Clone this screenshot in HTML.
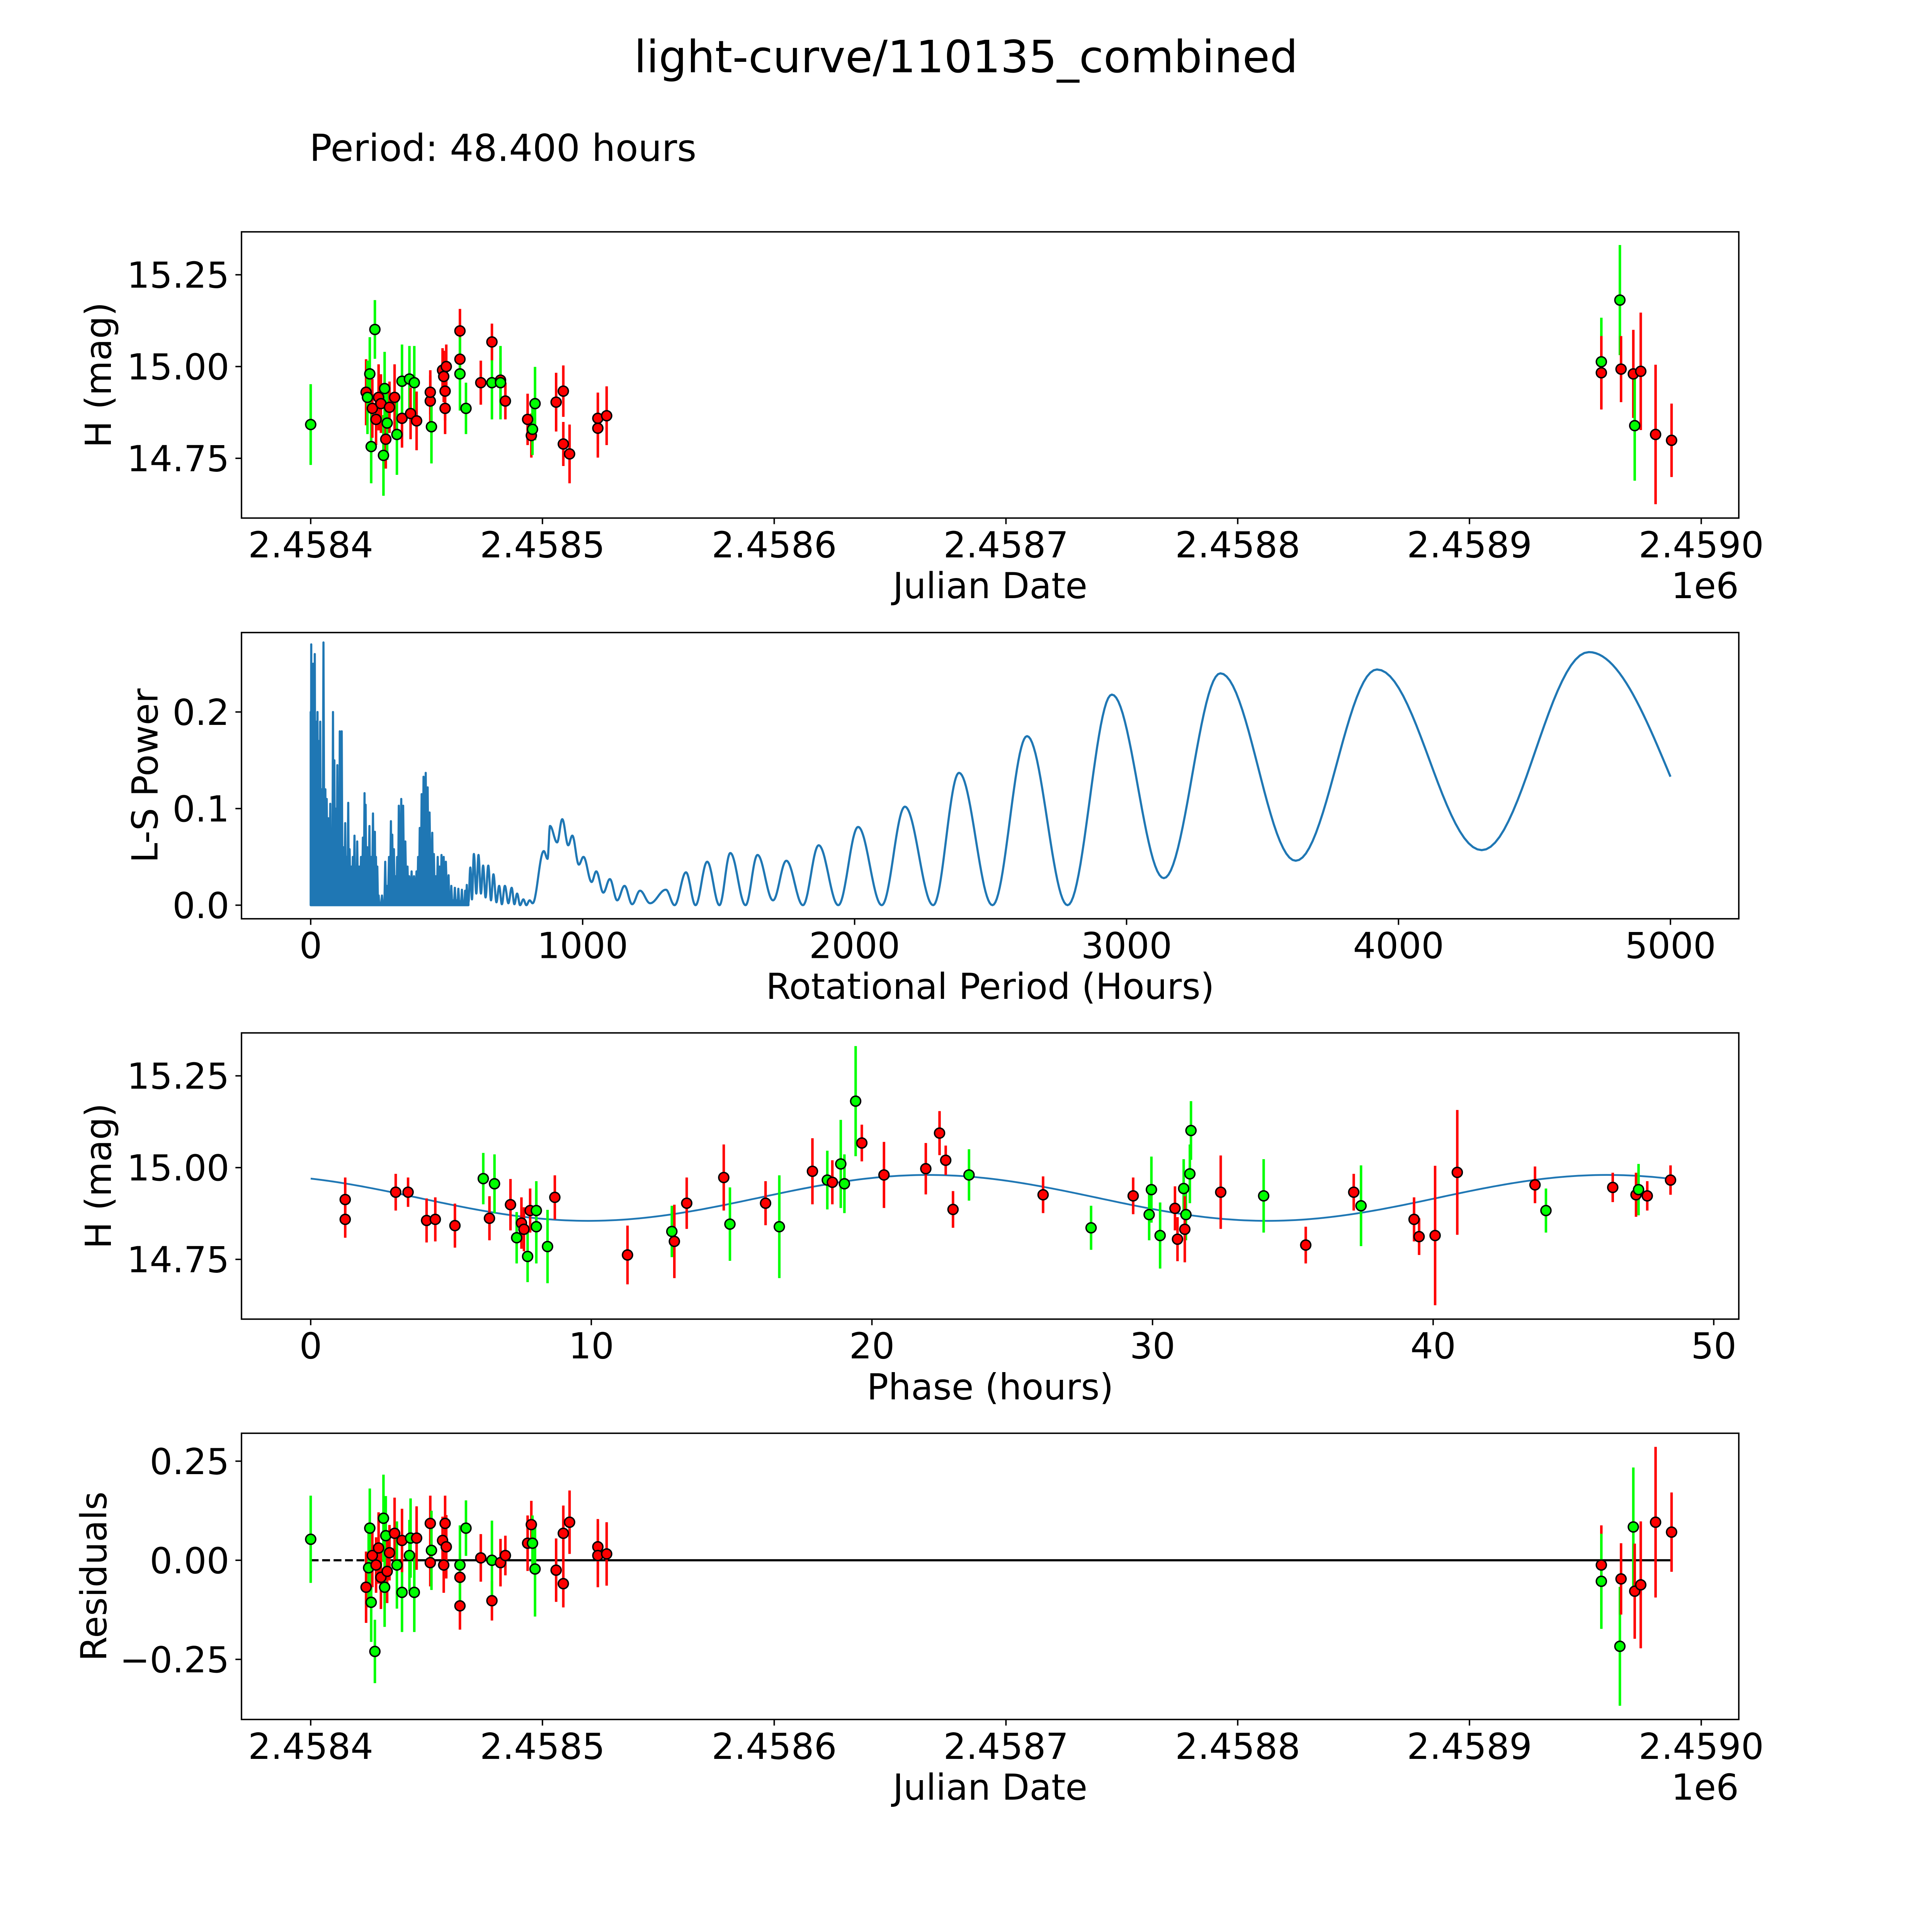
<!DOCTYPE html>
<html>
<head>
<meta charset="utf-8">
<style>
html,body{margin:0;padding:0;background:#fff;overflow:hidden;width:100%;height:100%;}
svg{display:block;position:fixed;left:0;top:0;width:100vw;height:100vh;font-family:"DejaVu Sans","Liberation Sans",sans-serif;}
</style>
</head>
<body>
<svg id="fig" xmlns="http://www.w3.org/2000/svg" viewBox="0 0 5400 5400" preserveAspectRatio="none">
<rect x="0" y="0" width="5400" height="5400" fill="#fff"/>
<text x="2700" y="202" font-size="124" text-anchor="middle">light-curve/110135_combined</text>
<text x="865" y="450" font-size="104">Period: 48.400 hours</text>
</svg>
<script>
// ---------- Panel 1: raw light curve (days since JD 2458400) ----------
const lcJd   = [0,23.9,24.5,25.5,26.1,27.7,26.6,28.2,29.3,30.3,31.4,32.4,31.9,33.0,34.0,36.2,37.2,39.4,39.4,42.6,43.1,44.7,45.7,51.6,51.6,52.1,56.9,57.4,58.0,58.0,58.5,64.4,64.4,64.4,67.0,73.4,78.2,78.2,81.9,81.9,84.0,93.6,95.2,95.7,96.8,105.9,109.0,109.0,111.7,123.9,123.9,127.7,556.9,556.9,564.9,565.4,570.7,571.3,573.9,580.3,587.2];
const lcMag  = [14.842,14.930,14.916,14.980,14.782,15.101,14.886,14.856,14.916,14.899,14.758,14.802,14.940,14.846,14.889,14.916,14.815,14.859,14.960,14.966,14.872,14.956,14.852,14.906,14.930,14.836,14.990,14.973,14.886,14.933,15.000,15.020,15.097,14.980,14.886,14.956,14.956,15.067,14.963,14.956,14.906,14.856,14.812,14.829,14.899,14.903,14.933,14.789,14.762,14.859,14.832,14.866,15.013,14.983,15.181,14.993,14.980,14.839,14.987,14.815,14.799];
const lcErr  = [0.11,0.09,0.1,0.1,0.1,0.08,0.08,0.07,0.09,0.08,0.11,0.08,0.1,0.1,0.07,0.09,0.11,0.08,0.1,0.09,0.07,0.1,0.08,0.07,0.06,0.1,0.06,0.07,0.07,0.08,0.06,0.06,0.06,0.1,0.07,0.06,0.1,0.05,0.06,0.1,0.05,0.07,0.06,0.07,0.1,0.08,0.07,0.06,0.08,0.07,0.08,0.08,0.12,0.1,0.15,0.09,0.12,0.15,0.16,0.19,0.1];
const lcBand = ['g','r','g','g','g','g','r','r','r','r','g','r','g','g','r','r','g','r','g','g','r','g','r','r','r','g','r','r','r','r','r','r','r','g','g','r','g','r','r','g','r','r','r','g','g','r','r','r','r','r','r','r','g','r','g','r','r','g','r','r','r'];

// ---------- Panel 2: Lomb-Scargle periodogram ----------
const lsDensePeriods = [0,2,5,9,12,15,20,25,30,35,40,47,54,59,65,72,77,82,87,92,98,103,107,114,120,127,132,138,143,150,155,161,166,171,178,185,192,198,202,208,216,222,229,236,240,245,250,255,262,268,274,280,288,295,300,306,312,318,324,333,340,348,356,362,371,380,389,395,401,408,415,423,430,437,447,453,460,467,474,481,489,497,507,512,517,524,530,537,543,550,556,562,568,574,580];
const lsDensePowers  = [0.2,0.27,0.2,0.25,0.18,0.26,0.19,0.2,0.17,0.19,0.12,0.272,0.12,0.11,0.09,0.105,0.07,0.2,0.15,0.1,0.145,0.08,0.18,0.18,0.06,0.085,0.05,0.106,0.058,0.04,0.05,0.072,0.04,0.066,0.04,0.05,0.07,0.116,0.104,0.06,0.082,0.05,0.095,0.076,0.05,0.04,0.01,0.0,0.01,0.0,0.045,0.02,0.05,0.087,0.073,0.058,0.03,0.05,0.103,0.11,0.103,0.066,0.04,0.03,0.035,0.03,0.035,0.05,0.08,0.115,0.133,0.137,0.122,0.096,0.075,0.053,0.03,0.05,0.04,0.052,0.05,0.045,0.031,0.01,0.02,0.005,0.018,0.005,0.017,0.004,0.016,0.003,0.015,0.021,0.003];
const lsExtPeriods = [580,587,593,600,609,617,626,634,643,653,663,672,683,693,703,714,727,739,749,759,770,782,793,805,816,857,871,880,906,925,947,962,986,1003,1033,1050,1076,1100,1127,1154,1182,1211,1248,1306,1338,1380,1415,1458,1503,1543,1599,1643,1700,1749,1810,1868,1940,2013,2100,2185,2289,2384,2507,2634,2783,2946,3137,3345,3622,3921,4306,4700,5000];
const lsExtPowers  = [0.003,0.039,0.006,0.053,0.012,0.052,0.012,0.041,0.008,0.041,0.005,0.032,0.003,0.02,0.001,0.02,0.002,0.018,0.001,0.012,0.0,0.006,0.0,0.005,0.002,0.056,0.048,0.082,0.065,0.089,0.062,0.072,0.042,0.05,0.024,0.035,0.013,0.027,0.005,0.02,0.001,0.015,0.002,0.016,0.0,0.034,0.0,0.045,0.0,0.054,0.0,0.052,0.005,0.046,0.0,0.062,0.0,0.081,0.0,0.102,0.0,0.137,0.0,0.175,0.0,0.218,0.028,0.24,0.046,0.244,0.057,0.262,0.133];

// ---------- Panel 3: phased light curve ----------
const phHours = [1.23,1.23,3.03,3.47,4.13,4.44,5.14,6.15,6.37,6.55,7.12,7.34,7.51,7.60,7.73,7.82,8.04,8.04,8.44,8.70,11.29,12.87,12.96,13.40,14.72,14.94,16.21,16.70,17.88,18.41,18.59,18.89,19.02,19.42,19.64,20.43,21.92,22.41,22.63,22.89,23.46,26.10,27.81,29.31,29.88,29.96,30.27,30.80,30.89,31.11,31.19,31.33,31.37,31.15,32.43,33.96,35.46,37.17,37.43,39.32,39.50,40.07,40.86,43.63,44.02,46.40,47.23,47.32,47.63,48.46];
const phMag   = [14.913,14.859,14.933,14.933,14.856,14.859,14.842,14.970,14.862,14.956,14.899,14.809,14.849,14.832,14.758,14.883,14.883,14.839,14.785,14.919,14.762,14.826,14.799,14.903,14.973,14.846,14.903,14.839,14.990,14.966,14.960,15.010,14.956,15.181,15.067,14.980,14.997,15.094,15.020,14.886,14.980,14.926,14.836,14.923,14.872,14.940,14.815,14.889,14.805,14.943,14.872,14.983,15.101,14.832,14.933,14.923,14.789,14.933,14.896,14.859,14.812,14.815,14.987,14.953,14.883,14.946,14.926,14.940,14.923,14.966];
const phErr   = [0.06,0.05,0.05,0.04,0.06,0.06,0.06,0.07,0.06,0.08,0.07,0.07,0.07,0.06,0.07,0.06,0.08,0.1,0.1,0.06,0.08,0.07,0.1,0.07,0.09,0.1,0.06,0.14,0.09,0.08,0.06,0.12,0.08,0.15,0.05,0.09,0.07,0.06,0.04,0.05,0.07,0.05,0.06,0.05,0.07,0.09,0.09,0.06,0.06,0.08,0.07,0.08,0.08,0.09,0.1,0.1,0.05,0.05,0.11,0.06,0.05,0.19,0.17,0.05,0.06,0.04,0.06,0.07,0.04,0.04];
const phBand  = ['r','r','r','r','r','r','r','g','r','g','r','g','r','r','g','r','g','g','g','r','r','g','r','r','r','g','r','g','r','g','r','g','g','g','r','r','r','r','r','r','g','r','g','r','g','g','g','r','r','g','g','g','g','r','r','g','r','r','g','r','r','r','r','r','g','r','r','g','r','r'];
// sinusoidal model: [mean mag, amplitude, peak phase (h), harmonic period (h), phase end (h)]
const modelParams = [14.9175, 0.0625, 22.0, 24.2, 48.4];

// ---------- Panel 4: residuals ----------
const resJd   = [0,23.9,25.0,25.5,26.1,26.6,27.7,28.2,29.3,30.3,31.4,31.9,32.4,33.0,34.0,36.2,37.2,39.4,39.4,42.6,43.1,44.7,45.7,51.6,51.6,52.1,56.9,57.4,58.0,58.5,64.4,64.4,64.4,67.0,73.4,78.2,78.2,81.9,84.0,93.6,95.2,95.7,96.8,105.9,109.0,109.0,111.7,123.9,123.9,127.7,556.9,556.9,564.9,565.4,570.7,571.3,573.9,580.3,587.2];
const resVal  = [0.053,-0.068,-0.019,0.081,-0.106,0.012,-0.230,-0.012,0.031,-0.043,0.106,-0.068,0.062,-0.028,0.019,0.068,-0.012,-0.081,0.050,0.012,0.056,-0.081,0.056,0.093,-0.006,0.025,0.050,-0.012,0.093,0.034,-0.115,-0.043,-0.012,0.081,0.006,-0.102,0.0,-0.006,0.012,0.043,0.090,0.043,-0.022,-0.025,0.068,-0.059,0.096,0.034,0.012,0.016,-0.012,-0.053,-0.217,-0.047,0.084,-0.078,-0.062,0.096,0.071];
const resErr  = [0.11,0.09,0.1,0.1,0.1,0.08,0.08,0.07,0.09,0.08,0.11,0.1,0.1,0.08,0.07,0.09,0.11,0.1,0.08,0.09,0.1,0.1,0.08,0.07,0.06,0.1,0.06,0.07,0.07,0.08,0.06,0.06,0.1,0.07,0.06,0.05,0.1,0.06,0.05,0.07,0.06,0.07,0.12,0.08,0.07,0.06,0.08,0.07,0.08,0.08,0.1,0.12,0.15,0.09,0.15,0.12,0.16,0.19,0.1];
const resBand = ['g','r','g','g','g','r','g','r','r','r','g','g','g','r','r','r','g','g','r','g','g','g','r','r','r','g','r','r','r','r','r','r','g','g','r','r','g','r','r','r','r','g','g','r','r','r','r','r','r','r','r','g','g','r','g','r','r','r','r'];

// ---------- tick arrays ----------
const jdTickVals   = [0,100,200,300,400,500,600];
const jdTickLabels = ['2.4584','2.4585','2.4586','2.4587','2.4588','2.4589','2.4590'];
const magTickVals   = [15.25,15.00,14.75];
const magTickLabels = ['15.25','15.00','14.75'];
const perTickVals   = [0,1000,2000,3000,4000,5000];
const perTickLabels = ['0','1000','2000','3000','4000','5000'];
const powTickVals   = [0.0,0.1,0.2];
const powTickLabels = ['0.0','0.1','0.2'];
const phTickVals    = [0,10,20,30,40,50];
const phTickLabels  = ['0','10','20','30','40','50'];
const resTickVals   = [0.25,0.00,-0.25];
const resTickLabels = ['0.25','0.00','\u22120.25'];

const NS = 'http://www.w3.org/2000/svg';
const fig = document.getElementById('fig');
const X0 = 675, X1 = 4860, H = 800;
const TOPS = [648, 1768, 2887, 4006];
const GREEN = '#00ff00', RED = '#ff0000', BLUE = '#1f77b4';

function mk(tag, attrs, parent) {
  const e = document.createElementNS(NS, tag);
  for (const k in attrs) e.setAttribute(k, attrs[k]);
  (parent || fig).appendChild(e);
  return e;
}
function lin(d0, d1, r0, r1) { return v => r0 + (v - d0) / (d1 - d0) * (r1 - r0); }

function axes(idx, name, xs, ys, xTicks, xLabels, yTicks, yLabels, xTitle, yTitle, yTitleX, offsetText) {
  const top = TOPS[idx], bot = top + H;
  const g = mk('g', {});
  
  
  const frame = mk('rect', {x: X0, y: top, width: X1 - X0, height: H, fill: 'none', stroke: '#000', 'stroke-width': 4}, g);
  
  
  xTicks.forEach((v, i) => {
    const x = xs(v);
    const t = mk('line', {x1: x, x2: x, y1: bot, y2: bot + 17, stroke: '#000', 'stroke-width': 4}, g);
    
    
    const l = mk('text', {x: x, y: bot + 110, 'font-size': 100, 'text-anchor': 'middle'}, g);
    
    
    l.textContent = xLabels[i];
  });
  yTicks.forEach((v, i) => {
    const y = ys(v);
    const t = mk('line', {x1: X0 - 17, x2: X0, y1: y, y2: y, stroke: '#000', 'stroke-width': 4}, g);
    
    
    const l = mk('text', {x: X0 - 34, y: y + 36, 'font-size': 100, 'text-anchor': 'end'}, g);
    
    
    l.textContent = yLabels[i];
  });
  const xt = mk('text', {x: (X0 + X1) / 2, y: bot + 224, 'font-size': 100, 'text-anchor': 'middle'}, g);
  
  
  xt.textContent = xTitle;
  const cy = top + H / 2;
  const yt = mk('text', {x: yTitleX, y: cy, 'font-size': 100, 'text-anchor': 'middle', transform: 'rotate(-90 ' + yTitleX + ' ' + cy + ')'}, g);
  
  
  yt.textContent = yTitle;
  if (offsetText) {
    const o = mk('text', {x: X1, y: bot + 224, 'font-size': 100, 'text-anchor': 'end'}, g);
    
    
    o.textContent = offsetText;
  }
  return g;
}

function errPoints(g, xs, ys, xv, yv, ev, bv, prefix) {
  const bars = mk('g', {}, g);
  
  
  for (let i = 0; i < xv.length; i++) {
    const x = xs(xv[i]);
    const b = mk('line', {x1: x, x2: x, y1: ys(yv[i] - ev[i]), y2: ys(yv[i] + ev[i]), stroke: bv[i] === 'g' ? GREEN : RED, 'stroke-width': 7}, bars);
    
    
  }
  const pts = mk('g', {}, g);
  
  
  for (let i = 0; i < xv.length; i++) {
    const c = mk('circle', {cx: xs(xv[i]), cy: ys(yv[i]), r: 14, fill: bv[i] === 'g' ? GREEN : RED, stroke: '#000', 'stroke-width': 4}, pts);
    
    
  }
}

// Panel 1
const p1x = lin(0, 600, 868.4, 4755);
const p1y = lin(15.25, 14.75, 768, 1281);
const g1 = axes(0, 'raw-light-curve-panel', p1x, p1y, jdTickVals, jdTickLabels, magTickVals, magTickLabels, 'Julian Date', 'H (mag)', 310, '1e6');
errPoints(g1, p1x, p1y, lcJd, lcMag, lcErr, lcBand, 'raw');

// Panel 2
const p2x = lin(0, 5000, 868.4, 4669);
const p2y = lin(0, 0.1, 2530, 2260);
const g2 = axes(1, 'periodogram-panel', p2x, p2y, perTickVals, perTickLabels, powTickVals, powTickLabels, 'Rotational Period (Hours)', 'L-S Power', 440, null);
{
  let d = 'M' + p2x(lsDensePeriods[0]) + ' ' + p2y(0);
  for (let i = 0; i < lsDensePeriods.length; i++) {
    d += ' L' + p2x(lsDensePeriods[i]).toFixed(1) + ' ' + p2y(lsDensePowers[i]).toFixed(1);
    if (i < lsDensePeriods.length - 1) {
      const mid = (lsDensePeriods[i] + lsDensePeriods[i + 1]) / 2;
      d += ' L' + p2x(mid).toFixed(1) + ' ' + p2y(0).toFixed(1);
    }
  }
  d += ' L' + p2x(lsDensePeriods[lsDensePeriods.length - 1]) + ' ' + p2y(0) + ' Z';
  const dense = mk('path', {d: d, fill: BLUE, stroke: BLUE, 'stroke-width': 6, 'stroke-linejoin': 'round'}, g2);
  
  
  let s = '';
  const n = lsExtPeriods.length;
  for (let i = 0; i < n - 1; i++) {
    const a = lsExtPeriods[i], b = lsExtPeriods[i + 1];
    const va = lsExtPowers[i], vb = lsExtPowers[i + 1];
    const last = (i === n - 2);
    const steps = 24;
    for (let k = 0; k <= steps; k++) {
      if (k === 0 && i > 0) continue;
      const t = k / steps;
      const w = last ? (1 - Math.cos(t * Math.PI / 2)) : (1 - Math.cos(t * Math.PI)) / 2;
      const p = a + (b - a) * t;
      const v = va + (vb - va) * w;
      s += (s ? ' L' : 'M') + p2x(p).toFixed(1) + ' ' + p2y(v).toFixed(1);
    }
  }
  const line = mk('path', {d: s, fill: 'none', stroke: BLUE, 'stroke-width': 6, 'stroke-linejoin': 'round'}, g2);
  
  
}

// Panel 3
const p3x = lin(0, 50, 868.4, 4790);
const p3y = lin(15.25, 14.75, 2887 + 120, 2887 + 633);
const g3 = axes(2, 'phased-light-curve-panel', p3x, p3y, phTickVals, phTickLabels, magTickVals, magTickLabels, 'Phase (hours)', 'H (mag)', 310, null);
{
  let d = '';
  for (let k = 0; k <= 240; k++) {
    const ph = modelParams[4] * k / 240;
    const m = modelParams[0] + modelParams[1] * Math.cos(2 * Math.PI * (ph - modelParams[2]) / modelParams[3]);
    d += (k ? ' L' : 'M') + p3x(ph).toFixed(1) + ' ' + p3y(m).toFixed(1);
  }
  const mc = mk('path', {d: d, fill: 'none', stroke: BLUE, 'stroke-width': 5}, g3);
  
  
}
errPoints(g3, p3x, p3y, phHours, phMag, phErr, phBand, 'phased');

// Panel 4
const p4x = p1x;
const p4y = lin(0, -0.25, 4361, 4638);
const g4 = axes(3, 'residuals-panel', p4x, p4y, jdTickVals, jdTickLabels, resTickVals, resTickLabels, 'Julian Date', 'Residuals', 297, '1e6');
{
  const z1 = mk('line', {x1: p4x(resJd[0]), x2: p4x(resJd[1]), y1: p4y(0), y2: p4y(0), stroke: '#000', 'stroke-width': 6, 'stroke-dasharray': '22 10'}, g4);
  
  
  const z2 = mk('line', {x1: p4x(resJd[1]), x2: p4x(resJd[resJd.length - 1]), y1: p4y(0), y2: p4y(0), stroke: '#000', 'stroke-width': 6}, g4);
  
  
}
errPoints(g4, p4x, p4y, resJd, resVal, resErr, resBand, 'residual');
</script>
</body>
</html>
